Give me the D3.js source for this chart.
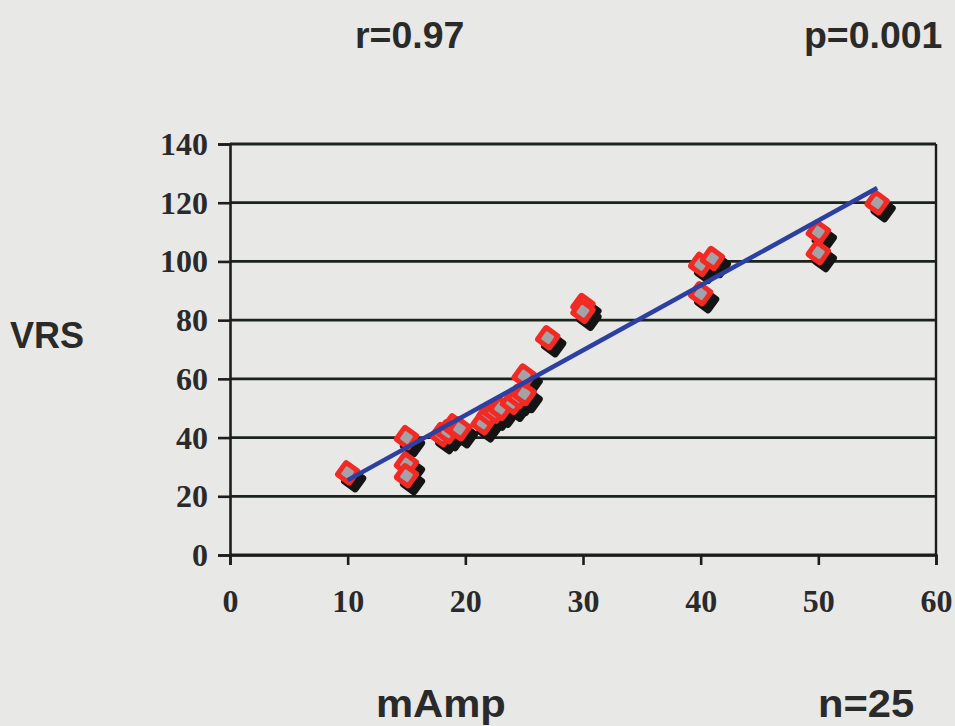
<!DOCTYPE html>
<html>
<head>
<meta charset="utf-8">
<script src="https://cdn.jsdelivr.net/npm/d3@7"></script>
<style>
  html, body { margin: 0; padding: 0; background: #e8e8e6; }
  svg { display: block; }
  .lbl { font-family: "Liberation Sans", Arial, sans-serif; font-weight: bold; fill: #2a2a2a; }
  .tick text { font-family: "Liberation Serif", "Times New Roman", serif; font-weight: bold; fill: #2a2a2a; }
</style>
</head>
<body>
<div class="main"></div>
<script>
// values
const mAmp = [10, 15, 15, 15, 18, 18.5, 19, 19.5, 21.5, 22, 22.5, 23, 24, 24.5, 25, 25, 27, 30, 30, 40, 40, 41, 50, 50, 55];
const vrs  = [28, 40, 31, 27, 41, 42, 44, 43, 45, 48, 49, 50, 52, 54, 55, 61, 74, 85, 83, 89, 99, 101, 103, 110, 120];
const fitX = [10, 55];
const fitY = [25.5, 125];
const xTicks = [0, 10, 20, 30, 40, 50, 60];
const yTicks = [0, 20, 40, 60, 80, 100, 120, 140];

const w = 955, h = 726;
const plotL = 230, plotR = 936, plotT = 144, plotB = 555;

const svg = d3.select(".main").append("svg")
  .attr("width", w)
  .attr("height", h);

svg.append("rect").attr("width", w).attr("height", h).attr("fill", "#e8e8e6");

const x = d3.scaleLinear().domain([0, 60]).range([plotL, plotR]);
const y = d3.scaleLinear().domain([0, 140]).range([plotB, plotT]);

// gridlines
svg.append("g")
  .selectAll("line")
  .data(yTicks)
  .enter()
  .append("line")
  .attr("x1", plotL).attr("x2", plotR)
  .attr("y1", d => y(d)).attr("y2", d => y(d))
  .attr("stroke", "#1b241b")
  .attr("stroke-width", 2.8);

// right border
svg.append("line")
  .attr("x1", plotR).attr("x2", plotR)
  .attr("y1", plotT).attr("y2", plotB)
  .attr("stroke", "#1d1d1d").attr("stroke-width", 2.4);

const yAxis = d3.axisLeft(y).tickValues(yTicks).tickSize(12).tickPadding(10);
const gy = svg.append("g").attr("transform", "translate(" + plotL + ",0)").call(yAxis);

const xAxis = d3.axisBottom(x).tickValues(xTicks).tickSize(10).tickPadding(24);
const gx = svg.append("g").attr("transform", "translate(0," + plotB + ")").call(xAxis);

[gy, gx].forEach(g => {
  g.select(".domain").attr("stroke", "#1d1d1d").attr("stroke-width", 2.6);
  g.selectAll(".tick line").attr("stroke", "#1d1d1d").attr("stroke-width", 2.6);
  g.selectAll(".tick text").attr("font-size", "32px").attr("fill", "#2a2a2a");
});
gy.selectAll(".tick text").attr("dy", "0.33em");

// markers: shadows first, then red diamonds with grey centre
const pts = mAmp.map((d, i) => ({ x: d, y: vrs[i] }));

svg.append("g").selectAll("rect")
  .data(pts).enter().append("rect")
  .attr("x", -10).attr("y", -10).attr("width", 20).attr("height", 20)
  .attr("rx", 3.5)
  .attr("fill", "#141414")
  .attr("transform", d => "translate(" + (x(d.x) + 6) + "," + (y(d.y) + 7) + ") rotate(36)");

const mk = svg.append("g").selectAll("g")
  .data(pts).enter().append("g")
  .attr("transform", d => "translate(" + x(d.x) + "," + y(d.y) + ") rotate(36)");
mk.append("rect")
  .attr("x", -10).attr("y", -10).attr("width", 20).attr("height", 20)
  .attr("rx", 3.5)
  .attr("fill", "#f22a24");
mk.append("rect")
  .attr("x", -5).attr("y", -5).attr("width", 10).attr("height", 10)
  .attr("rx", 1.5)
  .attr("fill", "#a2a2a8");

// regression line
svg.append("line")
  .attr("x1", x(fitX[0])).attr("y1", y(fitY[0]))
  .attr("x2", x(fitX[1])).attr("y2", y(fitY[1]))
  .attr("stroke", "#2d3fa0")
  .attr("stroke-width", 4.5);

// labels (the scan is slightly wider than the font)
function label(tx, ty, size, sx, s) {
  svg.append("text").attr("class", "lbl")
    .attr("transform", "translate(" + tx + "," + ty + ") scale(" + sx + ",1)")
    .attr("font-size", size + "px")
    .text(s);
}
label(355, 48, 36, 1.04, "r=0.97");
label(804, 48, 36, 1.04, "p=0.001");
label(10, 348, 36, 1.0, "VRS");
label(376, 717, 39, 1.07, "mAmp");
label(818, 717, 39, 1.07, "n=25");
</script>
</body>
</html>
